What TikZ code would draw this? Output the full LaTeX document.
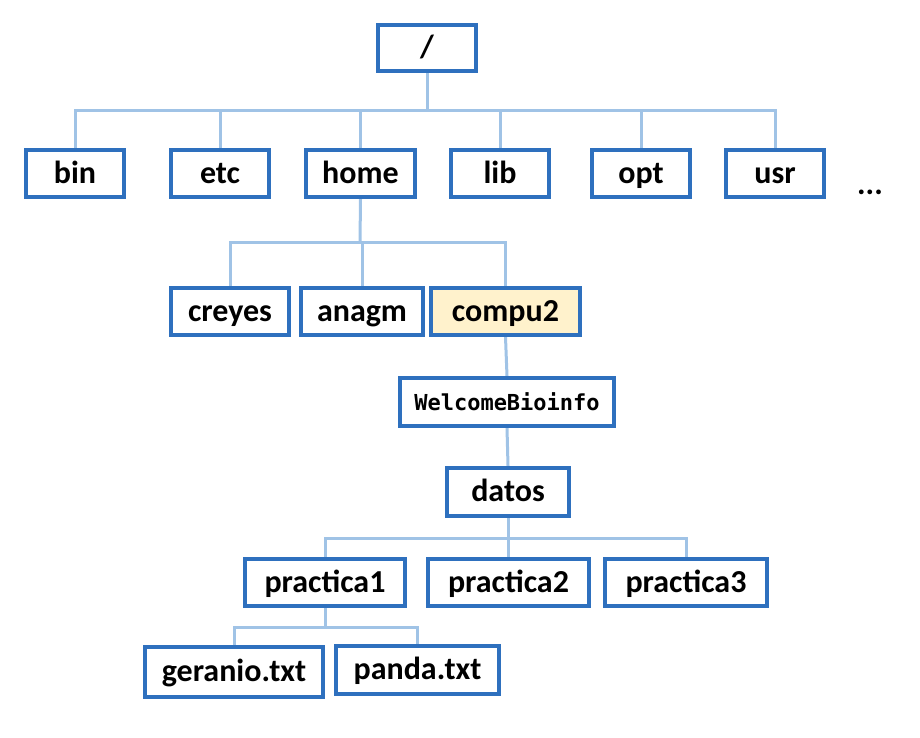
\documentclass[tikz,border=0pt]{standalone}
\usepackage{fontspec}
\setmainfont{Carlito}
\newfontfamily\monob{DejaVu Sans Mono}
\usetikzlibrary{backgrounds}
\definecolor{boxblue}{RGB}{46,112,190}
\definecolor{connblue}{RGB}{160,195,230}
\definecolor{hilite}{RGB}{255,242,204}
\tikzset{
  dirbox/.style={draw=boxblue, line width=4pt, fill=white, inner sep=0pt,
    font=\fontsize{32}{38}\selectfont\bfseries, text=black,
    text height=24pt, text depth=5pt},
  conn/.style={draw=connblue, line width=3pt}
}
\begin{document}
\begin{tikzpicture}[x=1pt,y=-1pt]
\useasboundingbox (0,0) rectangle (920,738);
% level 0
\node[dirbox, minimum width=98pt, minimum height=46pt] (root) at (427,48) {/};
% level 1
\node[dirbox, minimum width=98pt, minimum height=47pt] (bin) at (75,173.5) {bin};
\node[dirbox, minimum width=98pt, minimum height=47pt] (etc) at (220,173.5) {etc};
\node[dirbox, minimum width=109pt, minimum height=47pt] (home) at (360.5,173.5) {home};
\node[dirbox, minimum width=98pt, minimum height=47pt] (lib) at (500,173.5) {lib};
\node[dirbox, minimum width=98pt, minimum height=47pt] (opt) at (641,173.5) {opt};
\node[dirbox, minimum width=98pt, minimum height=47pt] (usr) at (775,173.5) {usr};
\node[font=\fontsize{32}{38}\selectfont\bfseries, inner sep=0pt, anchor=base] (dots) at (870,194) {...};
% level 2
\node[dirbox, minimum width=118pt, minimum height=47pt] (creyes) at (230,311.5) {creyes};
\node[dirbox, minimum width=122pt, minimum height=47pt] (anagm) at (362,311.5) {anagm};
\node[dirbox, fill=hilite, minimum width=149pt, minimum height=47pt] (compu2) at (505.5,311.5) {compu2};
% level 3
\node[dirbox, minimum width=214pt, minimum height=48pt, font=\monob\fontsize{22}{26}\selectfont\bfseries, text height=20pt, text depth=3pt] (welcome) at (507,402) {WelcomeBioinfo};
% level 4
\node[dirbox, minimum width=122pt, minimum height=48pt] (datos) at (508,492) {datos};
% level 5
\node[dirbox, minimum width=160pt, minimum height=47pt] (p1) at (325,582.5) {practica1};
\node[dirbox, minimum width=161pt, minimum height=47pt] (p2) at (508.5,582.5) {practica2};
\node[dirbox, minimum width=162pt, minimum height=47pt] (p3) at (686,582.5) {practica3};
% level 6
\node[dirbox, minimum width=178pt, minimum height=50pt] (geranio) at (234,672) {geranio.txt};
\node[dirbox, minimum width=163pt, minimum height=48pt] (panda) at (417.5,670) {panda.txt};
% junctions
\coordinate (j0) at (427,111);
\coordinate (j1) at (360,242);
\coordinate (j4) at (508,538);
\coordinate (j5) at (325,627);
\begin{scope}[on background layer]
\draw[conn] (root.south) -- (j0);
\draw[conn] (bin.north) |- (j0);
\draw[conn] (etc.north) |- (j0);
\draw[conn] (home.north) |- (j0);
\draw[conn] (lib.north) |- (j0);
\draw[conn] (opt.north) |- (j0);
\draw[conn] (usr.north) |- (j0);
\draw[conn] (home.south) -- (j1);
\draw[conn] (creyes.north) |- (j1);
\draw[conn] (anagm.north) |- (j1);
\draw[conn] (compu2.north) |- (j1);
\draw[conn] (compu2.south) -- (welcome.north);
\draw[conn] (welcome.south) -- (datos.north);
\draw[conn] (datos.south) -- (j4);
\draw[conn] (p1.north) |- (j4);
\draw[conn] (p2.north) |- (j4);
\draw[conn] (p3.north) |- (j4);
\draw[conn] (p1.south) -- (j5);
\draw[conn] (geranio.north) |- (j5);
\draw[conn] (panda.north) |- (j5);
\end{scope}
\end{tikzpicture}
\end{document}
